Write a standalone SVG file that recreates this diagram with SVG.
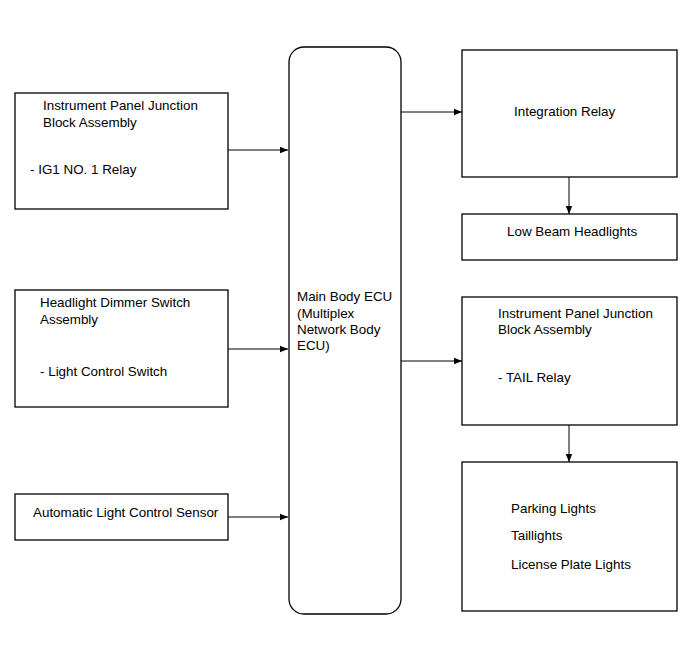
<svg xmlns="http://www.w3.org/2000/svg" width="691" height="660" viewBox="0 0 691 660">
<style>
.box{fill:#fff;stroke:#000;stroke-width:1.3}
.t{font-family:"Liberation Sans",Arial,sans-serif;font-size:13.4px;fill:#000}
.c{stroke:#000;stroke-width:1;fill:none}
</style>
<defs>
<marker id="ah" viewBox="0 0 10 10" refX="10" refY="5" markerWidth="11" markerHeight="8" markerUnits="userSpaceOnUse" orient="auto">
<path d="M0,1 L10,5 L0,9 z" fill="#000"/>
</marker>
</defs>
<rect width="691" height="660" fill="#fff"/>
<g id="n-ipjb1">
<rect class="box" x="15" y="93" width="213" height="116"/>
<text class="t" x="43" y="110">Instrument Panel Junction</text>
<text class="t" x="43" y="127">Block Assembly</text>
<text class="t" x="30" y="174">- IG1 NO. 1 Relay</text>
</g>
<g id="n-dimmer">
<rect class="box" x="15" y="290" width="213" height="117"/>
<text class="t" x="40" y="307">Headlight Dimmer Switch</text>
<text class="t" x="40" y="324">Assembly</text>
<text class="t" x="40" y="376">- Light Control Switch</text>
</g>
<g id="n-sensor">
<rect class="box" x="15" y="494" width="213" height="46"/>
<text class="t" x="33" y="517">Automatic Light Control Sensor</text>
</g>
<g id="n-ecu">
<rect class="box" x="289" y="47" width="112" height="567" rx="15" ry="15"/>
<text class="t" x="297" y="301">Main Body ECU</text>
<text class="t" x="297" y="318">(Multiplex</text>
<text class="t" x="297" y="334">Network Body</text>
<text class="t" x="297" y="350">ECU)</text>
</g>
<g id="n-intrelay">
<rect class="box" x="462" y="50" width="215" height="127"/>
<text class="t" x="514" y="116">Integration Relay</text>
</g>
<g id="n-lowbeam">
<rect class="box" x="462" y="214" width="215" height="46"/>
<text class="t" x="507" y="236">Low Beam Headlights</text>
</g>
<g id="n-ipjb2">
<rect class="box" x="462" y="297" width="215" height="128"/>
<text class="t" x="498" y="318">Instrument Panel Junction</text>
<text class="t" x="498" y="334">Block Assembly</text>
<text class="t" x="498" y="382">- TAIL Relay</text>
</g>
<g id="n-lights">
<rect class="box" x="462" y="462" width="215" height="149"/>
<text class="t" x="511" y="513">Parking Lights</text>
<text class="t" x="511" y="540">Taillights</text>
<text class="t" x="511" y="569">License Plate Lights</text>
</g>
<g id="connectors">
<line class="c" x1="228" y1="150" x2="288" y2="150" marker-end="url(#ah)"/>
<line class="c" x1="228" y1="349" x2="288" y2="349" marker-end="url(#ah)"/>
<line class="c" x1="228" y1="517" x2="288" y2="517" marker-end="url(#ah)"/>
<line class="c" x1="401" y1="112" x2="462" y2="112" marker-end="url(#ah)"/>
<line class="c" x1="401" y1="361" x2="462" y2="361" marker-end="url(#ah)"/>
<line class="c" x1="569" y1="177" x2="569" y2="214" marker-end="url(#ah)"/>
<line class="c" x1="569" y1="425" x2="569" y2="462" marker-end="url(#ah)"/>
</g>
</svg>
